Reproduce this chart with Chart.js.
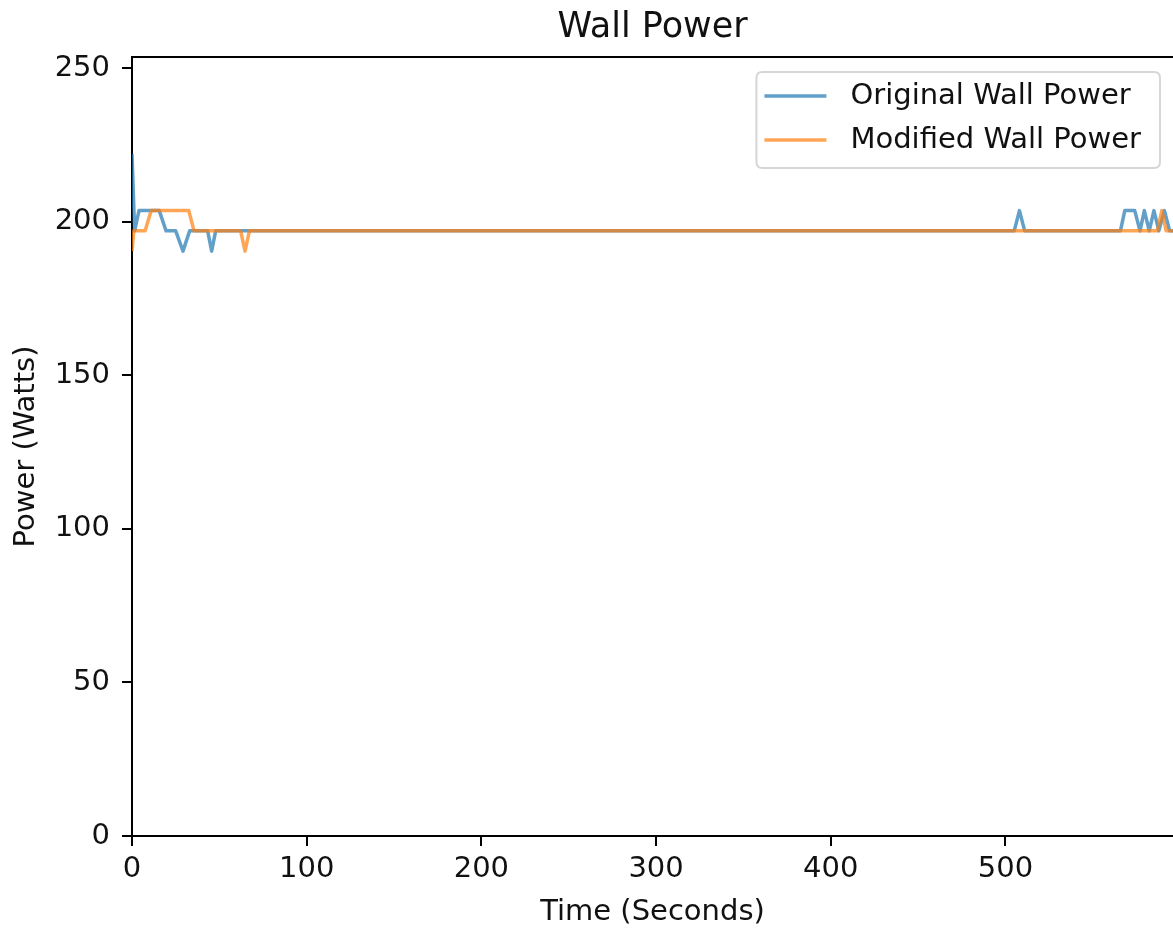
<!DOCTYPE html>
<html>
<head>
<meta charset="utf-8">
<script src="https://cdn.jsdelivr.net/npm/chart.js@4/dist/chart.umd.min.js"></script>
<style>
  html, body { margin: 0; padding: 0; background: #ffffff; }
  #wrap { width: 1173px; height: 931px; }
</style>
</head>
<body>
<div id="wrap"><canvas id="c" width="1173" height="931"></canvas></div>
<script>
// ---- chart data ----
const chartTitle = 'Wall Power';
const xAxisTitle = 'Time (Seconds)';
const yAxisTitle = 'Power (Watts)';
const seriesLabels = ['Original Wall Power', 'Modified Wall Power'];
const xTicks = [0, 100, 200, 300, 400, 500];
const yTicks = [0, 50, 100, 150, 200, 250];
const xRange = [0, 595.9];
const yRange = [0, 253.6];

const originalTime  = [0, 1.5, 4, 15.6, 19.5, 25, 29.2, 33, 43.3, 45.6, 47.9, 505, 508, 511, 565.8, 568.3, 574, 577, 579.5, 582.3, 585, 587.8, 591, 594, 595.9];
const originalWatts = [222, 197, 203.6, 203.6, 197, 197, 190.4, 197, 197, 190.4, 197, 197, 203.6, 197, 197, 203.6, 203.6, 197, 203.6, 197, 203.6, 197, 203.6, 197, 197];

const modifiedTime  = [0, 1, 7.5, 11, 32.5, 35.5, 62.2, 64.7, 67.2, 587, 589.5, 592, 595.9];
const modifiedWatts = [190.4, 197, 197, 203.6, 203.6, 197, 197, 190.4, 197, 197, 203.6, 197, 197];

// ---- styling ----
const FONT = 'DejaVu Sans';
const TEXT = '#111111';
const colors = ['rgba(31,119,180,0.7)', 'rgba(255,127,14,0.7)'];

const toPoints = (xs, ys) => xs.map((x, i) => ({ x: x, y: ys[i] }));

const insideLegend = {
  id: 'insideLegend',
  afterDatasetsDraw(chart) {
    const ctx = chart.ctx;
    const area = chart.chartArea;
    const ds = chart.data.datasets;
    ctx.save();
    ctx.font = '29px "' + FONT + '"';
    let tw = 0;
    ds.forEach(d => { tw = Math.max(tw, ctx.measureText(d.label).width); });
    const padL = 8, handle = 62, gap = 24, padR = 19;
    const w = padL + handle + gap + tw + padR;
    const h = 96;
    const right = area.right - 13;
    const left = right - w;
    const top = area.top + 15;
    const r = 6;
    ctx.beginPath();
    ctx.moveTo(left + r, top);
    ctx.lineTo(left + w - r, top);
    ctx.quadraticCurveTo(left + w, top, left + w, top + r);
    ctx.lineTo(left + w, top + h - r);
    ctx.quadraticCurveTo(left + w, top + h, left + w - r, top + h);
    ctx.lineTo(left + r, top + h);
    ctx.quadraticCurveTo(left, top + h, left, top + h - r);
    ctx.lineTo(left, top + r);
    ctx.quadraticCurveTo(left, top, left + r, top);
    ctx.closePath();
    ctx.fillStyle = 'rgba(255,255,255,0.8)';
    ctx.fill();
    ctx.strokeStyle = 'rgba(204,204,204,0.8)';
    ctx.lineWidth = 2;
    ctx.stroke();
    ds.forEach((d, i) => {
      const cy = top + 24 + i * 44;
      ctx.beginPath();
      ctx.moveTo(left + padL, cy);
      ctx.lineTo(left + padL + handle, cy);
      ctx.strokeStyle = d.borderColor;
      ctx.lineWidth = 3.5;
      ctx.stroke();
      ctx.fillStyle = TEXT;
      ctx.textAlign = 'left';
      ctx.textBaseline = 'middle';
      ctx.fillText(d.label, left + padL + handle + gap, cy);
    });
    ctx.restore();
  }
};

new Chart(document.getElementById('c'), {
  type: 'line',
  data: {
    datasets: [
      { label: seriesLabels[0], data: toPoints(originalTime, originalWatts), borderColor: colors[0], backgroundColor: colors[0],
        borderWidth: 3.5, pointRadius: 0, tension: 0, fill: false, order: 1, borderJoinStyle: 'round' },
      { label: seriesLabels[1], data: toPoints(modifiedTime, modifiedWatts), borderColor: colors[1], backgroundColor: colors[1],
        borderWidth: 3.5, pointRadius: 0, tension: 0, fill: false, order: 0, borderJoinStyle: 'round' }
    ]
  },
  options: {
    responsive: false,
    animation: false,
    devicePixelRatio: 1,
    layout: { padding: 0 },
    plugins: {
      legend: { display: false },
      tooltip: { enabled: false },
      title: {
        display: true, text: chartTitle, color: TEXT, fullSize: false,
        font: { family: FONT, size: 35, weight: 'normal', lineHeight: 1.2 },
        padding: { top: 7, bottom: 8 }
      }
    },
    scales: {
      x: {
        type: 'linear', position: 'bottom', min: xRange[0], max: xRange[1],
        afterBuildTicks: s => { s.ticks = xTicks.map(v => ({ value: v })); },
        afterFit: s => { s.height = 95; },
        ticks: { color: TEXT, font: { family: FONT, size: 29 }, padding: 6, maxRotation: 0, autoSkip: false,
                 callback: v => String(v) },
        grid: { drawOnChartArea: false, drawTicks: true, tickLength: 10, color: '#000', lineWidth: 2 },
        border: { display: true, color: '#000', width: 2 },
        title: { display: true, text: xAxisTitle, color: TEXT, font: { family: FONT, size: 29, lineHeight: 1.2 },
                 padding: { top: 0, bottom: 1 } }
      },
      x2: {
        type: 'linear', position: 'top', min: 0, max: 1,
        afterFit: s => { s.height = 0; },
        ticks: { display: false },
        grid: { display: false },
        border: { display: true, color: '#000', width: 2 }
      },
      y: {
        type: 'linear', position: 'left', min: yRange[0], max: yRange[1],
        afterBuildTicks: s => { s.ticks = yTicks.map(v => ({ value: v })); },
        afterFit: s => { s.width = 132; },
        ticks: { color: TEXT, font: { family: FONT, size: 29 }, padding: 12, callback: v => String(v) },
        grid: { drawOnChartArea: false, drawTicks: true, tickLength: 10, color: '#000', lineWidth: 2 },
        border: { display: true, color: '#000', width: 2 },
        title: { display: true, text: yAxisTitle, color: TEXT, font: { family: FONT, size: 29, lineHeight: 1.2 },
                 padding: { top: 9, bottom: 0 } }
      }
    }
  },
  plugins: [insideLegend]
});
</script>
</body>
</html>
